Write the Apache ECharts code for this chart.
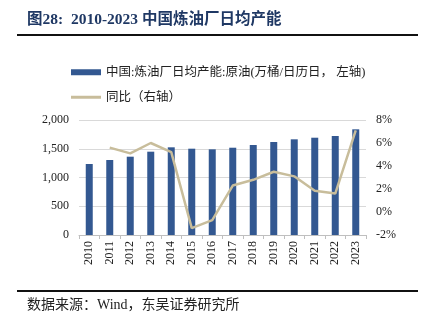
<!DOCTYPE html>
<html><head><meta charset="utf-8">
<script src="https://cdn.jsdelivr.net/npm/echarts@6/dist/echarts.min.js"></script>
<style>html,body{margin:0;padding:0;background:#fff}#c{width:426px;height:324px}</style>
</head><body><div id="c"></div>
<script>
const years = ['2010','2011','2012','2013','2014','2015','2016','2017','2018','2019','2020','2021','2022','2023'];
const capacity = [1235,1304,1362,1449,1525,1501,1490,1518,1565,1617,1664,1692,1722,1838];
const yoy = [null,5.6,5.1,6.0,5.2,-1.4,-0.7,2.3,2.8,3.5,3.1,1.85,1.6,7.1];
const barName = '中国:炼油厂日均产能:原油(万桶/日历日， 左轴)';
const lineName = '同比（右轴）';
const serif = '"Liberation Serif","Noto Sans CJK SC",serif';
const chart = echarts.init(document.getElementById('c'));
chart.setOption({
  animation:false,
  graphic:[
    {type:'text',left:27,top:12,style:{text:'图28:  2010-2023 中国炼油厂日均产能',font:'bold 15.5px "Liberation Serif","Noto Sans CJK SC",serif',fill:'#1f3864'}},
    {type:'rect',shape:{x:17,y:34,width:401,height:2},style:{fill:'#111'}},
    {type:'rect',shape:{x:17,y:290,width:401,height:2},style:{fill:'#111'}},
    {type:'text',left:27,top:298,style:{text:'数据来源：Wind，东吴证券研究所',font:'14px "Liberation Serif","Noto Sans CJK SC",serif',fill:'#222'}}
  ],
  legend:[
    {left:66,top:61,itemWidth:30,itemHeight:6,icon:'rect',
     textStyle:{fontFamily:serif,fontSize:12.5,color:'#222'},data:[barName]},
    {left:66,top:86,itemWidth:30,itemHeight:3,icon:'rect',
     textStyle:{fontFamily:serif,fontSize:12.5,color:'#222'},data:[lineName]}
  ],
  grid:{left:79,right:60,top:120,bottom:89},
  xAxis:{type:'category',data:years,boundaryGap:true,
    axisLine:{lineStyle:{color:'#bfbfbf'}},
    axisTick:{show:true,alignWithLabel:false,length:4,lineStyle:{color:'#bfbfbf'}},
    axisLabel:{rotate:90,color:'#222',fontFamily:serif,fontSize:12,margin:6}},
  yAxis:[
    {type:'value',min:0,max:2000,interval:500,
     axisLabel:{color:'#222',fontFamily:serif,fontSize:12,margin:10,formatter:v=>v.toLocaleString('en-US')},
     splitLine:{lineStyle:{color:'#d9d9d9'}},axisLine:{show:false},axisTick:{show:false}},
    {type:'value',min:-2,max:8,interval:2,
     axisLabel:{color:'#222',fontFamily:serif,fontSize:12,margin:10,formatter:v=>v+'%'},
     splitLine:{show:false},axisLine:{show:false},axisTick:{show:false}}
  ],
  series:[
    {name:barName,type:'bar',data:capacity,barWidth:7,itemStyle:{color:'#335891'}},
    {name:lineName,type:'line',yAxisIndex:1,data:yoy,symbol:'none',lineStyle:{color:'#c8bd9b',width:2.5},itemStyle:{color:'#c8bd9b'}}
  ]
});
</script></body></html>
